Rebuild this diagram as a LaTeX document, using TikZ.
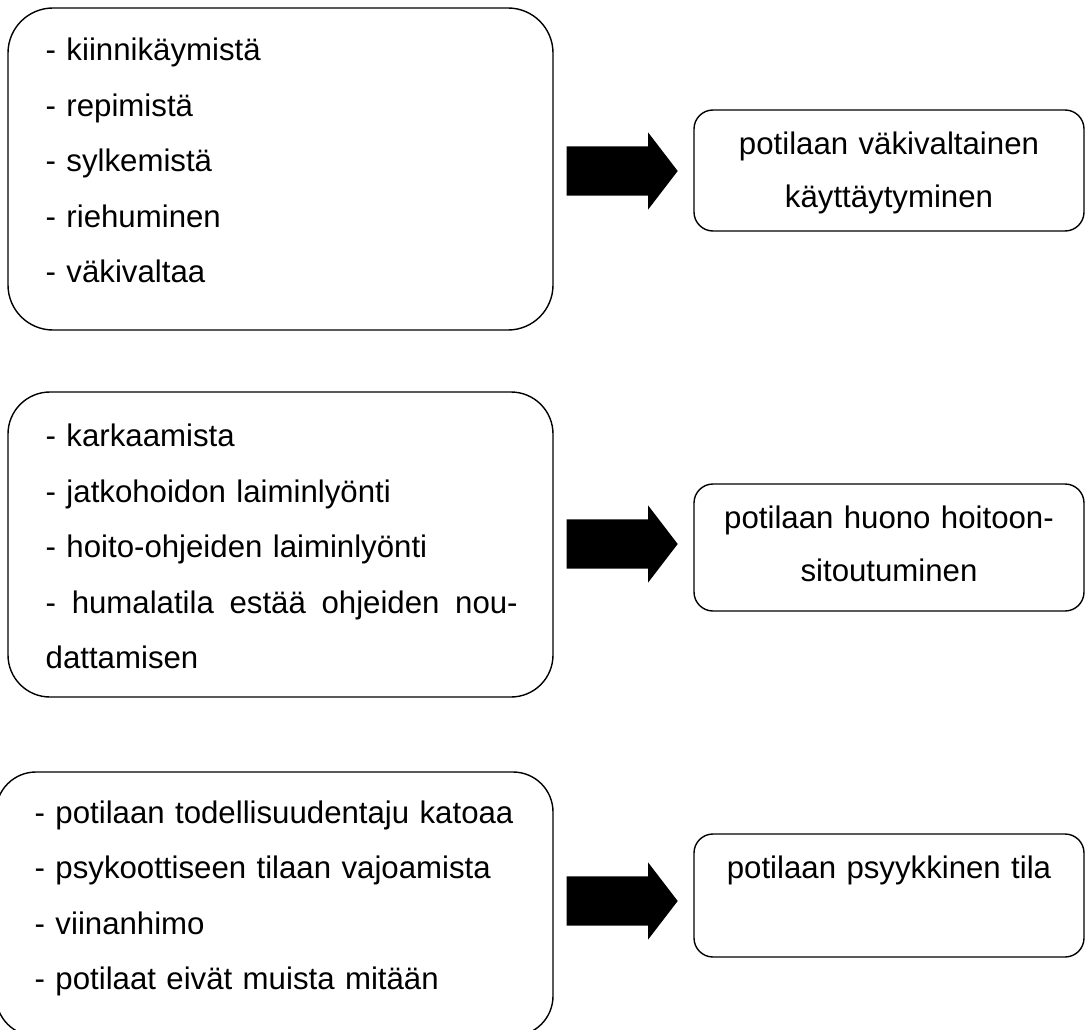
\documentclass[tikz,border=0pt]{standalone}
\usepackage{fontspec}
\setmainfont{Liberation Sans}
\usepackage{tikz}
\usetikzlibrary{shapes,calc}

\begin{document}
\begin{tikzpicture}[x=1pt,y=-1pt,line width=1.4pt,
  every node/.append style={font=\fontsize{31.2}{55.5}\selectfont}]
  \tikzstyle{causebox} = [draw,rectangle,inner sep=0pt]
  \tikzstyle{resultbox} = [draw,rectangle,rounded corners=19pt,minimum width=390pt,inner sep=0pt]
  \tikzstyle{causes} = [text width=490pt,align=left,inner sep=0pt,anchor=base west]
  \tikzstyle{result} = [text width=390pt,align=center,inner sep=0pt,anchor=base,
    font=\fontsize{31.2}{53}\selectfont]
  \tikzstyle{blockarrow} = [single arrow,fill=black,draw=none,inner xsep=0pt,inner ysep=24pt,
    minimum height=111pt,single arrow head extend=14pt,single arrow tip angle=105,anchor=tail]
  \useasboundingbox (0,0) rectangle (1087,1030);
  % left boxes
  \node (left_1) [causebox,minimum width=545pt,minimum height=322pt,rounded corners=45pt] at (280.5,169) {};
  \node (left_2) [causebox,minimum width=545pt,minimum height=305pt,rounded corners=42pt] at (280.5,544.5) {};
  \node (left_3) [causebox,minimum width=557pt,minimum height=264pt,rounded corners=40pt] at (274.5,904) {};
  \node (list_1) [causes] at (45,61)
    {- kiinnikäymistä\\- repimistä\\- sylkemistä\\- riehuminen\\- väkivaltaa};
  \node (list_2) [causes] at (45,446.5)
    {- karkaamista\\- jatkohoidon laiminlyönti\\- hoito-ohjeiden laiminlyönti\\
     \makebox[472pt]{-\hfill humalatila\hfill estää\hfill ohjeiden\hfill nou-}\\dattamisen};
  \node (list_3) [causes] at (34,823)
    {- potilaan todellisuudentaju katoaa\\- psykoottiseen tilaan vajoamista\\- viinanhimo\\- potilaat eivät muista mitään};
  % arrows
  \node (arrow_1) [blockarrow] at (566,171) {};
  \node (arrow_2) [blockarrow] at (566,544) {};
  \node (arrow_3) [blockarrow] at (566,901) {};
  % right boxes
  \node (right_1) [resultbox,minimum height=121pt] at (889,170.5) {};
  \node (right_2) [resultbox,minimum height=127pt] at (889,547.5) {};
  \node (right_3) [resultbox,minimum height=123pt] at (889,895.5) {};
  \node (res_1) [result] at ($(right_1.north)+(0,45)$) {potilaan väkivaltainen\\käyttäytyminen};
  \node (res_2) [result] at ($(right_2.north)+(0,45)$) {potilaan huono hoitoon-\\sitoutuminen};
  \node (res_3) [result] at ($(right_3.north)+(0,45)$) {potilaan psyykkinen tila};
\end{tikzpicture}
\end{document}
